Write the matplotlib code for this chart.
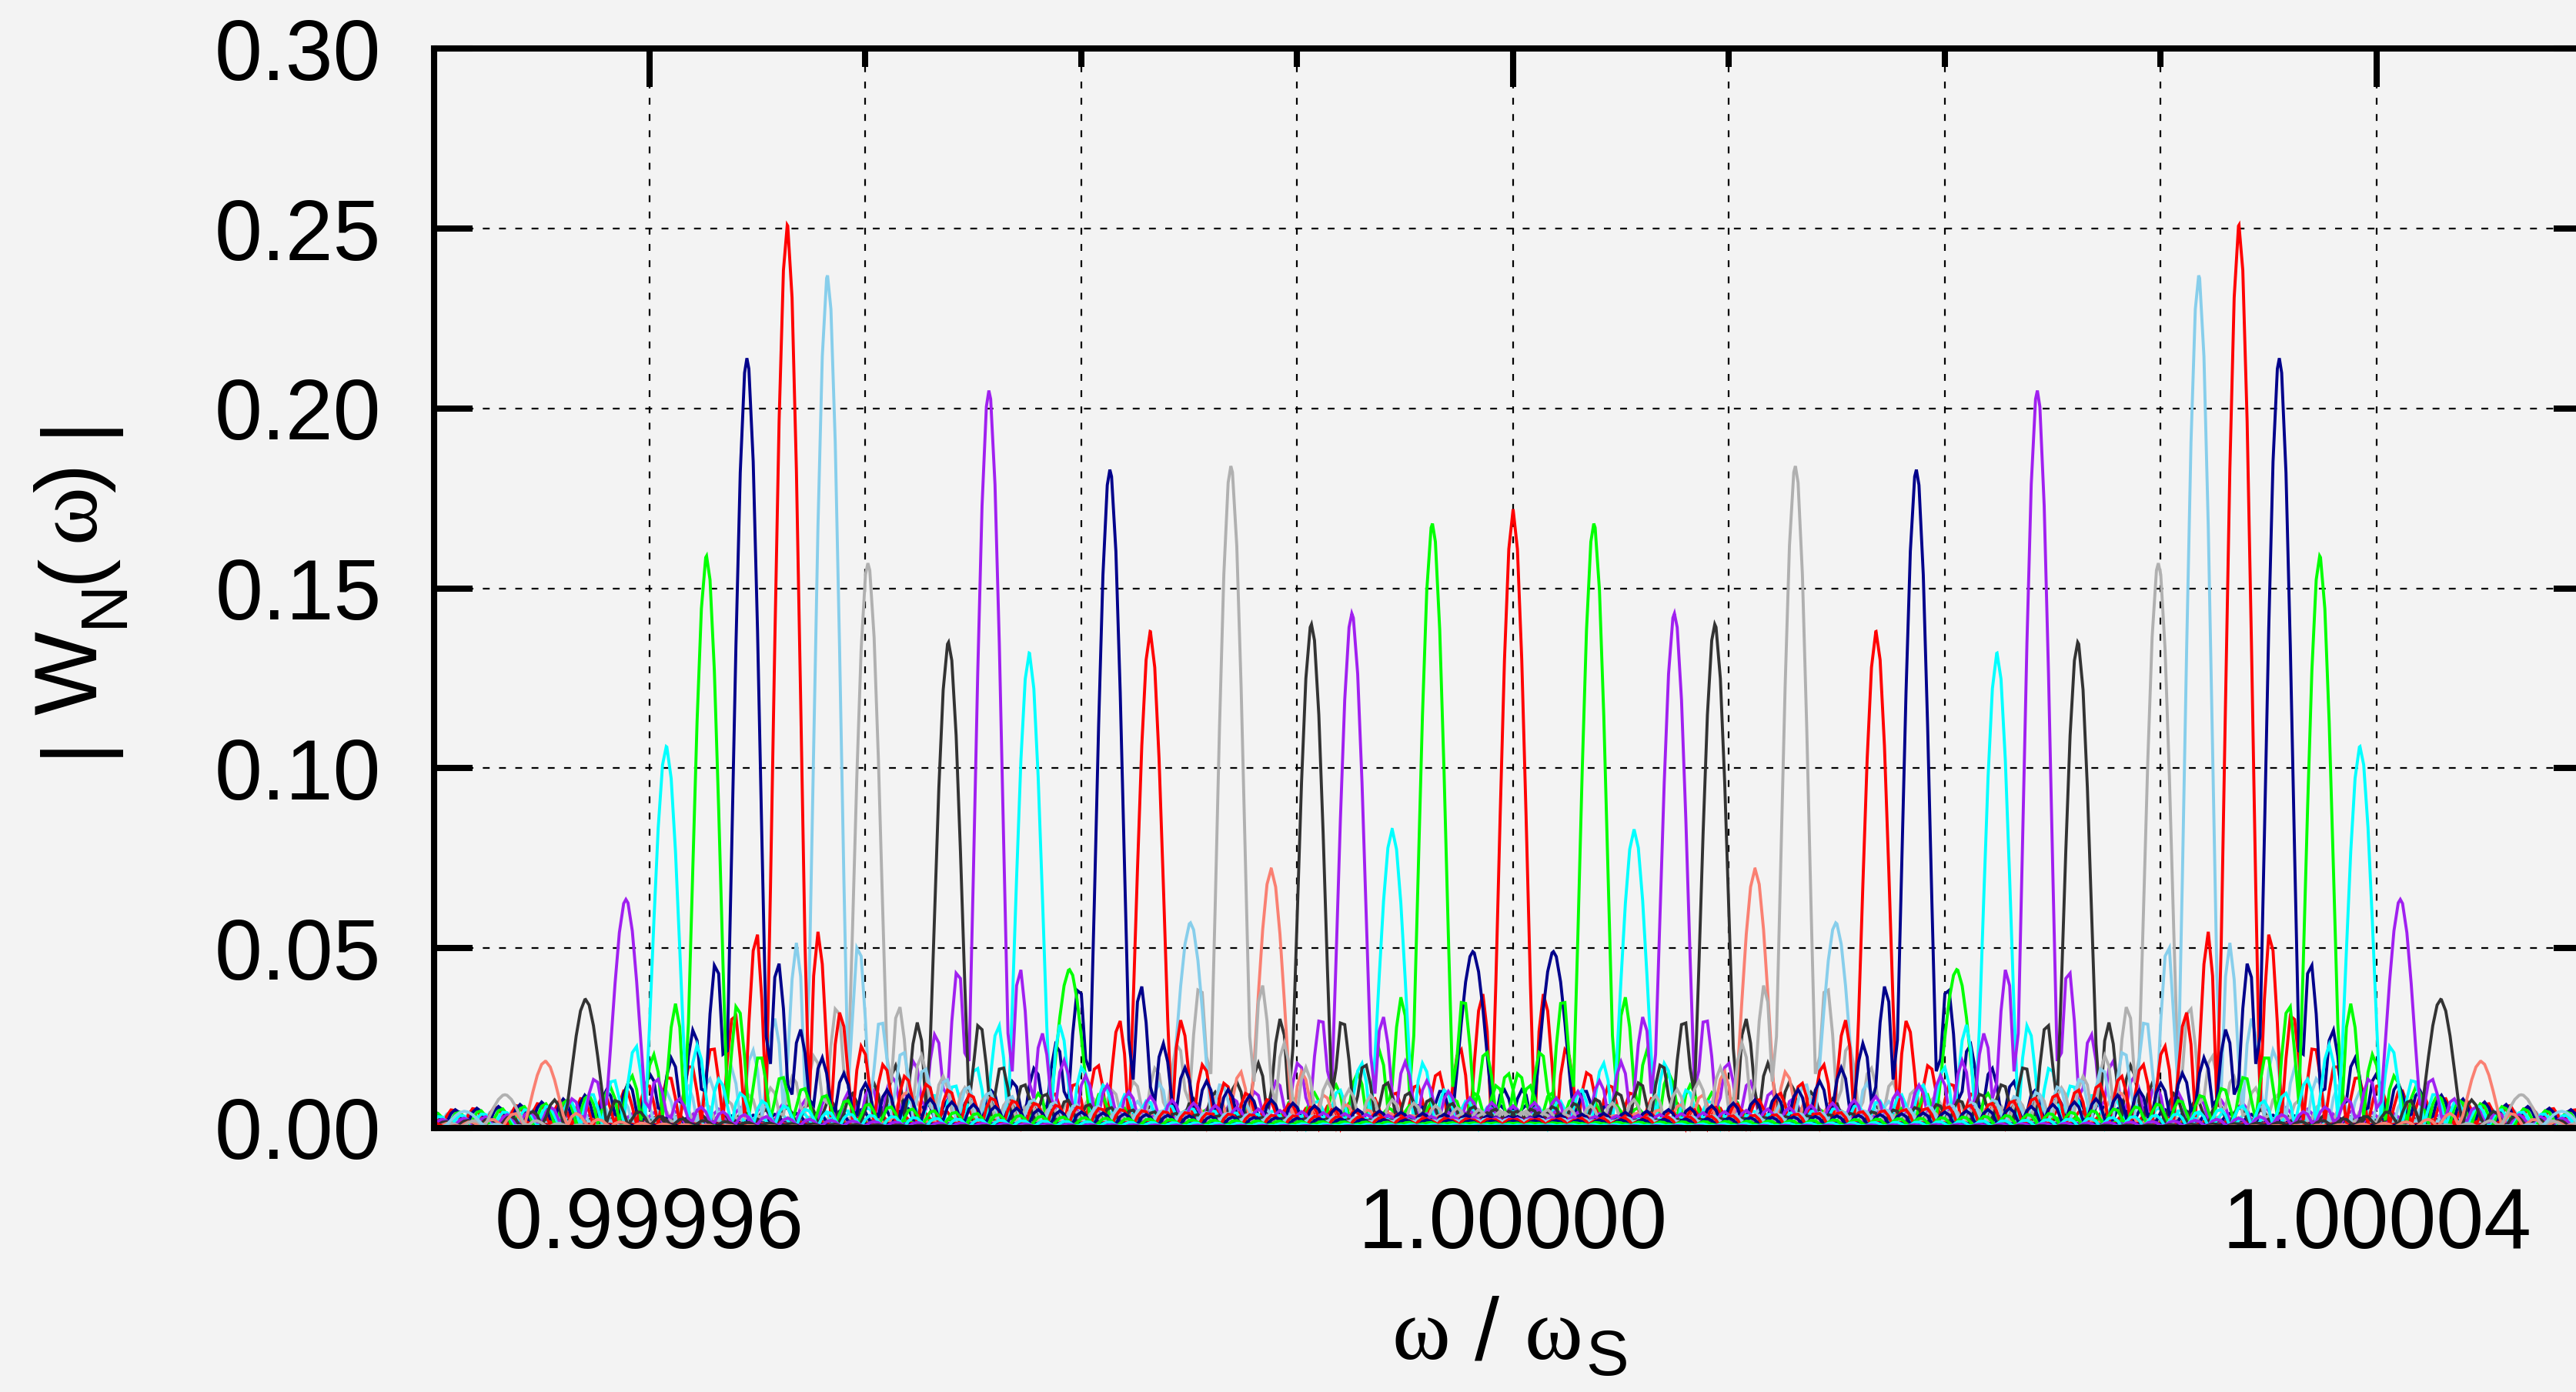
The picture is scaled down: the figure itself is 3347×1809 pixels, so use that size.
import numpy as np
import matplotlib
matplotlib.use("Agg")
import matplotlib.pyplot as plt
from matplotlib.ticker import FixedLocator, FormatStrFormatter

# spectral window peaks, indexed by |k| (the spectrum is mirrored about omega_S)
# offset of each peak from omega/omega_S = 1, in units of 1e-6
peak_offset = [0.0, 1.868, 3.736, 5.604, 7.472, 9.340, 11.208, 13.076, 14.944,
               16.812, 18.680, 20.548, 22.416, 24.284, 26.152, 28.020, 29.888,
               31.756, 33.624, 35.492, 37.360, 39.228, 41.096, 42.964, 44.832,
               46.700, 48.568, 50.436, 52.304]
peak_height = [0.172, 0.049, 0.168, 0.083, 0.143, 0.140, 0.072, 0.184, 0.057,
               0.138, 0.183, 0.044, 0.132, 0.205, 0.135, 0.010, 0.157, 0.237,
               0.251, 0.214, 0.159, 0.106, 0.0635, 0.0357, 0.0185, 0.0092,
               0.0046, 0.0023, 0.0012]
line_colors = ["#ff0000", "#00008b", "#00ff00", "#00ffff", "#a020f0",
               "#333333", "#fa8072", "#b0b0b0", "#87ceeb"]

lobe_width = 1.0e-6          # distance from peak to first zero
x_range = (0.99995, 1.00005)
y_range = (0.0, 0.30)
x_major = [0.99996, 1.00000, 1.00004]
x_minor = [0.99997, 0.99998, 0.99999, 1.00001, 1.00002, 1.00003]
y_major = [0.00, 0.05, 0.10, 0.15, 0.20, 0.25, 0.30]

bg = "#f3f3f3"
plt.rcParams["font.family"] = ["Liberation Sans", "DejaVu Sans"]
plt.rcParams["mathtext.fontset"] = "custom"
plt.rcParams["mathtext.rm"] = "Liberation Sans"
plt.rcParams["mathtext.it"] = "Liberation Serif"

W, H = 3348, 1809
fig = plt.figure(figsize=(W / 100, H / 100), dpi=100, facecolor=bg)
ax = fig.add_axes([0.16831, 0.18977, 0.83781, 0.77513], facecolor=bg)

grid = np.linspace(x_range[0], x_range[1], 501)

for idx in range(len(peak_offset)):
    for sign in ([1] if idx == 0 else [-1, 1]):
        centre = 1.0 + sign * peak_offset[idx] * 1e-6
        xs = np.union1d(grid, [centre])
        xs = xs[(xs >= x_range[0]) & (xs <= x_range[1])]
        ys = peak_height[idx] * np.abs(np.sinc((xs - centre) / lobe_width))
        ax.plot(xs, ys, color=line_colors[idx % 9], lw=2.8,
                solid_joinstyle="miter", clip_on=False, zorder=2)

ax.set_xlim(*x_range)
ax.set_ylim(*y_range)

ax.xaxis.set_major_locator(FixedLocator(x_major))
ax.xaxis.set_minor_locator(FixedLocator(x_minor))
ax.xaxis.set_major_formatter(FormatStrFormatter("%.5f"))
ax.yaxis.set_major_locator(FixedLocator(y_major))
ax.yaxis.set_major_formatter(FormatStrFormatter("%.2f"))

ax.tick_params(axis="x", which="both", direction="in", top=True, bottom=False,
               labelbottom=True, labelsize=80, pad=54, width=5.8)
ax.tick_params(axis="x", which="major", length=36)
ax.tick_params(axis="x", which="minor", length=17)
ax.tick_params(axis="y", which="major", direction="in", left=True, right=True,
               labelsize=80, pad=49, length=36, width=5.8)

gkw = dict(color="black", linewidth=1.6, linestyle=(0, (4, 5.5)))
ax.grid(True, axis="x", which="both", **gkw)
ax.grid(True, axis="y", which="major", **gkw)

for s in ax.spines.values():
    s.set_linewidth(5.8)
    s.set_zorder(3)


def put(x, y, s, size, **kw):
    # place a text piece by its start point and baseline, in pixels from top-left
    return fig.text(x / W, 1 - y / H, s, fontsize=size, ha="left",
                    va="baseline", **kw)


# axis labels, built piece by piece so the subscripts sit large and low
put(1808, 1766, r"$\omega$", 83)
put(1916, 1766, "/", 83)
put(1980, 1766, r"$\omega$", 83)
put(2060, 1787, r"$\mathrm{S}$", 60)

rot = dict(rotation=90, rotation_mode="anchor")
put(126, 983, "|", 83, **rot)
put(126, 929, "W", 83, **rot)
put(159, 815, "N", 62, **rot)
put(126, 757, "(", 83, **rot)
put(126, 709, r"$\omega$", 83, **rot)
put(126, 640, ")", 83, **rot)
put(126, 566, "|", 83, **rot)

fig.savefig("out.png", dpi=100, facecolor=bg)
